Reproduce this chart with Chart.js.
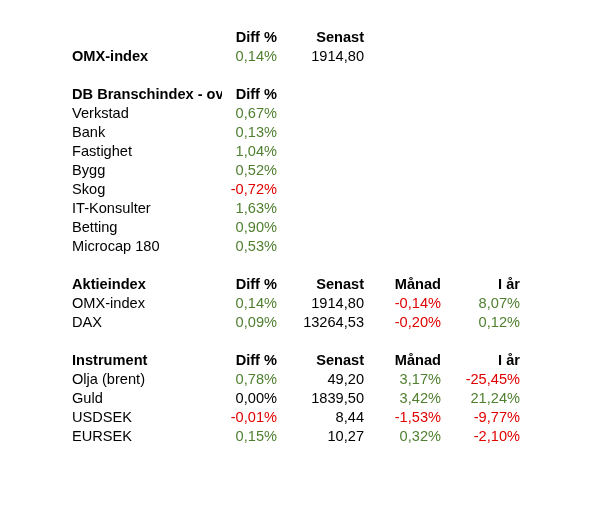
<!DOCTYPE html>
<html>
<head>
<meta charset="utf-8">
<script src="https://cdn.jsdelivr.net/npm/chart.js@4"></script>
<style>
  html, body { margin: 0; padding: 0; background: #fff; }
  #wrap { width: 606px; height: 526px; position: relative; }
</style>
</head>
<body>
<div id="wrap"><canvas id="tableChart"></canvas></div>
<script>
// headers
var topHeaders = ['Diff %', 'Senast'];
var fullHeaders = ['Diff %', 'Senast', 'Månad', 'I år'];

// OMX-index overview
var omxLabel = 'OMX-index';
var omxDiff = 0.14;
var omxLast = 1914.80;

// branch index
var branchTitle = 'DB Branschindex - ov';
var branchNames = ['Verkstad', 'Bank', 'Fastighet', 'Bygg', 'Skog', 'IT-Konsulter', 'Betting', 'Microcap 180'];
var branchDiff = [0.67, 0.13, 1.04, 0.52, -0.72, 1.63, 0.90, 0.53];

// stock indices
var indexTitle = 'Aktieindex';
var indexNames = ['OMX-index', 'DAX'];
var indexDiff = [0.14, 0.09];
var indexLast = [1914.80, 13264.53];
var indexMonth = [-0.14, -0.20];
var indexYear = [8.07, 0.12];

// instruments
var instrTitle = 'Instrument';
var instrNames = ['Olja (brent)', 'Guld', 'USDSEK', 'EURSEK'];
var instrDiff = [0.78, 0.00, -0.01, 0.15];
var instrLast = [49.20, 1839.50, 8.44, 10.27];
var instrMonth = [3.17, 3.42, -1.53, 0.32];
var instrYear = [-25.45, 21.24, -9.77, -2.10];

var GREEN = '#4f7f2f';
var RED = '#e00000';
var BLACK = '#000000';

function pct(v) { return v.toFixed(2).replace('.', ',') + '%'; }
function num(v) { return v.toFixed(2).replace('.', ','); }
function col(v) { return v > 0 ? GREEN : (v < 0 ? RED : BLACK); }

// build the rows: each cell = [column, text, bold, color]
var rows = [];
rows.push([[1, topHeaders[0], true, BLACK], [2, topHeaders[1], true, BLACK]]);
rows.push([[0, omxLabel, true, BLACK], [1, pct(omxDiff), false, col(omxDiff)], [2, num(omxLast), false, BLACK]]);
rows.push([]);
rows.push([[0, branchTitle, true, BLACK], [1, topHeaders[0], true, BLACK]]);
for (var i = 0; i < branchNames.length; i++) {
  rows.push([[0, branchNames[i], false, BLACK], [1, pct(branchDiff[i]), false, col(branchDiff[i])]]);
}
rows.push([]);

function addSection(title, names, diff, last, month, year) {
  var head = [[0, title, true, BLACK]];
  for (var h = 0; h < fullHeaders.length; h++) head.push([h + 1, fullHeaders[h], true, BLACK]);
  rows.push(head);
  for (var k = 0; k < names.length; k++) {
    rows.push([
      [0, names[k], false, BLACK],
      [1, pct(diff[k]), false, col(diff[k])],
      [2, num(last[k]), false, BLACK],
      [3, pct(month[k]), false, col(month[k])],
      [4, pct(year[k]), false, col(year[k])]
    ]);
  }
}
addSection(indexTitle, indexNames, indexDiff, indexLast, indexMonth, indexYear);
rows.push([]);
addSection(instrTitle, instrNames, instrDiff, instrLast, instrMonth, instrYear);

var rowLabels = rows.map(function(r, idx) { return String(idx); });

// column anchors on the x scale (0 = left aligned label, others right aligned)
var colAnchor = [72, 277, 364, 441, 520];
var firstColClip = 222;

var tablePlugin = {
  id: 'tableText',
  afterDraw: function(chart) {
    var ctx = chart.ctx;
    var xs = chart.scales.x, ys = chart.scales.y;
    ctx.save();
    ctx.textBaseline = 'middle';
    rows.forEach(function(r, ri) {
      var y = ys.getPixelForValue(ri) + 1;
      r.forEach(function(c) {
        ctx.font = (c[2] ? 'bold ' : '') + '14.6px "Liberation Sans", Arial, sans-serif';
        ctx.fillStyle = c[3];
        var x = xs.getPixelForValue(colAnchor[c[0]]);
        if (c[0] === 0) {
          ctx.save();
          ctx.beginPath();
          ctx.rect(0, y - 12, xs.getPixelForValue(firstColClip), 24);
          ctx.clip();
          ctx.textAlign = 'left';
          ctx.fillText(c[1], x, y);
          ctx.restore();
        } else {
          ctx.textAlign = 'right';
          ctx.fillText(c[1], x, y);
        }
      });
    });
    ctx.restore();
  }
};

var chart = new Chart(document.getElementById('tableChart').getContext('2d'), {
  type: 'scatter',
  data: {
    labels: rowLabels,
    datasets: [{ data: [], pointRadius: 0 }]
  },
  options: {
    responsive: true,
    maintainAspectRatio: false,
    animation: false,
    layout: { padding: { top: 27.5, bottom: 80.5, left: 0, right: 0 } },
    plugins: { legend: { display: false }, tooltip: { enabled: false } },
    scales: {
      x: { type: 'linear', min: 0, max: 606, display: false },
      y: { type: 'category', labels: rowLabels, offset: true, display: false }
    }
  },
  plugins: [tablePlugin]
});
</script>
</body>
</html>
